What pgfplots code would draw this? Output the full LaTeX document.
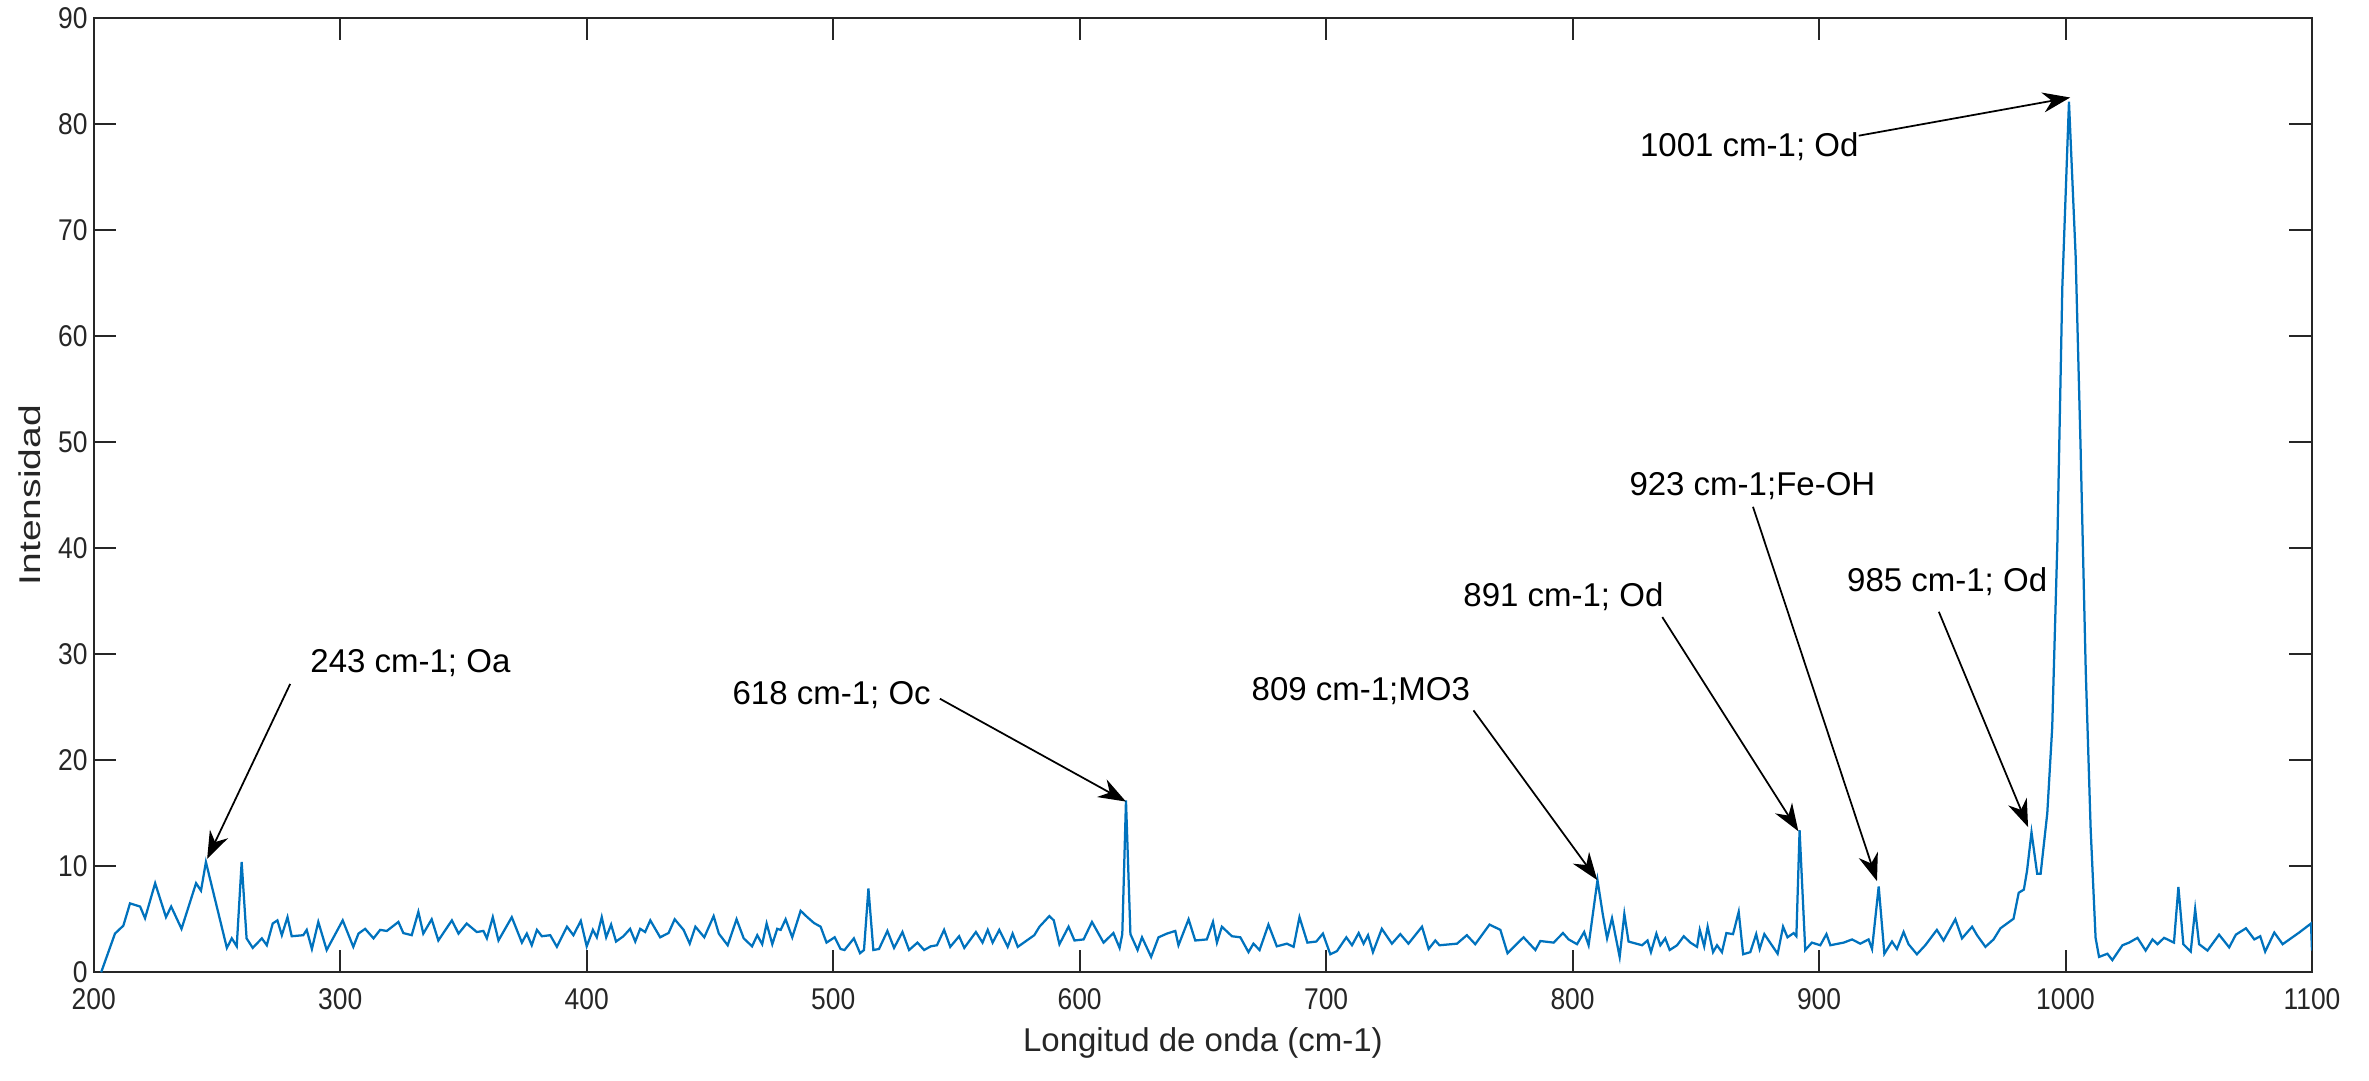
\documentclass[border=0pt]{standalone}
\usepackage{fontspec}
\setmainfont{Liberation Sans}
\newfontfamily\tickfont{Liberation Sans}[FakeStretch=0.88]
\usepackage{pgfplots}
\pgfplotsset{compat=1.18}
\usetikzlibrary{arrows.meta,calc}
\definecolor{mlblue}{HTML}{0072BD}
\definecolor{mlgray}{HTML}{262626}

\pgfplotstableread{
x y
203 0
208.6 3.65
212 4.4
214.7 6.5
218.8 6.2
220.8 5.1
224.9 8.4
229.3 5.2
231.4 6.2
235.6 4.1
241.5 8.4
243.5 7.7
245.5 10.4
254 2.3
256 3.2
258 2.45
260 10.4
262 3.2
264.5 2.3
268.2 3.2
270.2 2.55
272.6 4.6
274.5 4.9
276.3 3.5
278.6 5.2
280.3 3.4
285 3.5
286.4 4.0
288.5 2.2
291.1 4.75
294.5 2.1
301 4.9
305.3 2.4
307.4 3.65
310.1 4.1
313.5 3.2
316.2 4.0
318.9 3.9
323.6 4.75
325.6 3.7
329 3.5
331.7 5.7
333.7 3.65
337.1 5.0
339.8 3.0
345.3 4.9
348 3.65
351.3 4.6
355.4 3.8
358.1 3.9
359.5 3.2
361.9 5.2
364.2 3.0
369.6 5.2
373.7 2.8
375.7 3.65
377.7 2.55
379.8 4.0
381.8 3.4
385.2 3.5
387.9 2.4
392 4.3
394.6 3.5
397.6 4.85
400 2.45
402.5 4.0
404.1 3.3
406.1 5.2
407.9 3.3
409.9 4.5
411.9 2.9
414.9 3.4
417.6 4.1
419.7 2.9
421.7 4.1
423.7 3.8
425.8 4.9
429.8 3.3
433.2 3.7
435.7 5.0
439.3 4.0
441.8 2.7
444.1 4.3
447.7 3.3
451.5 5.3
453.6 3.65
457.2 2.55
460.8 5.0
463.7 3.2
467.1 2.45
469.2 3.5
471.2 2.65
473 4.6
475.3 2.65
477.3 4.1
478.7 4.0
480.7 5.0
483.4 3.3
486.8 5.8
489.5 5.2
492.2 4.65
494.9 4.3
497.3 2.8
500.6 3.3
503 2.2
504.6 2.1
508.4 3.2
510.9 1.8
512.5 2.1
514.3 7.9
516.3 2.1
518.6 2.2
522 3.9
524.7 2.3
528.1 3.8
530.8 2.1
534.2 2.8
536.9 2.1
539.6 2.45
542.1 2.55
545 4.0
547.5 2.4
551.1 3.4
553.2 2.3
557.9 3.8
560.6 2.8
562.7 4.0
564.7 2.8
567.4 4.0
570.8 2.4
572.8 3.65
574.9 2.4
581.6 3.5
583.7 4.3
587.7 5.3
589.5 4.9
591.8 2.65
595.5 4.3
597.9 3.0
601.6 3.1
605 4.75
609.7 2.8
613.7 3.7
616.2 2.3
617.3 3.6
618.8 16.2
620.6 3.6
623.5 2.1
625.3 3.3
629 1.45
632 3.3
635.4 3.65
638.8 3.9
640.1 2.55
644.2 5.0
646.9 3.0
651.6 3.1
654.1 4.75
655.7 2.8
657.7 4.3
661.8 3.4
665.2 3.3
668.5 1.9
670.5 2.7
673 2.1
676.6 4.5
680 2.45
684.1 2.7
686.8 2.4
689.2 5.2
692.4 2.8
696 2.9
698.7 3.65
701.7 1.7
704.4 2.0
708.2 3.3
710.5 2.55
713.2 3.7
715.2 2.7
717 3.5
719 1.9
722.6 4.1
726.7 2.7
730.1 3.6
733.4 2.7
738.9 4.3
741.6 2.2
744.3 3.0
746 2.55
753.1 2.7
757.1 3.5
760.5 2.65
766.3 4.5
770.7 4.0
773.6 1.8
780.1 3.3
784.9 2.1
786.9 2.95
792.3 2.8
796.1 3.7
798.4 3.1
801.8 2.65
804.7 3.8
806.5 2.55
810.1 8.7
812.3 5.4
814 3.2
816 5.1
819.1 1.45
821 5.5
822.7 2.9
828.2 2.55
830.4 3.0
831.8 1.9
834 3.65
835.6 2.55
837.6 3.2
839.4 2.1
842.4 2.55
845.1 3.4
847.8 2.8
850.5 2.4
851.6 4.0
853.4 2.45
854.8 4.3
857 1.9
858.6 2.55
860.6 1.9
862.4 3.7
865.1 3.6
867.4 5.7
869.2 1.7
872.1 1.9
874.5 3.6
875.9 2.2
877.8 3.6
883.2 1.75
885.4 4.3
887.2 3.3
889.7 3.7
890.8 3.4
892.1 13.4
894.4 2.1
897.1 2.8
900.5 2.55
903 3.6
904.6 2.55
910 2.8
913.4 3.1
916.7 2.7
920.1 3.1
921.5 2.2
924.2 8.1
926.5 1.75
929.6 2.9
931.6 2.2
934.3 3.8
936.3 2.65
939.7 1.7
943.1 2.55
947.8 4.0
950.5 3.0
955.3 5.0
958 3.2
962.1 4.3
964.1 3.5
967.5 2.4
970.8 3.1
973.6 4.15
978.9 5.05
981 7.5
983.1 7.8
984.4 9.6
986.2 13.2
988.5 9.3
989.9 9.3
992.6 15.0
994.6 23.1
996.7 40.6
998.7 64.6
1001.4 82.1
1004.1 67.6
1006.1 49.6
1008.2 28.5
1010.2 13.5
1012.2 3.25
1013.6 1.45
1017 1.75
1019 1.15
1023.1 2.55
1025.8 2.8
1029.2 3.25
1032.5 2.05
1035.3 3.1
1037.3 2.65
1040 3.25
1044 2.8
1045.8 8.05
1047.8 2.65
1050.8 1.95
1052.6 5.95
1054.2 2.65
1057.6 2.05
1062.3 3.55
1066.4 2.35
1069.1 3.55
1073.2 4.15
1076.6 3.1
1079 3.4
1081 1.95
1084.7 3.75
1088.1 2.65
1094.8 3.75
1099.6 4.6
1100 2.05
}\spectrum

\begin{document}
\begin{tikzpicture}
\begin{axis}[
  scale only axis,
  width=887pt, height=381.6pt,
  xmin=200, xmax=1100, ymin=0, ymax=90,
  xtick={200,300,...,1100},
  ytick={0,10,...,90},
  tick align=inside,
  major tick length=9pt,
  axis line style={mlgray, line width=0.8pt},
  every tick/.style={mlgray, line width=0.8pt},
  tick label style={font=\tickfont\fontsize{12}{14}\selectfont, text=mlgray},
  /pgf/number format/assume math mode=true,
  /pgf/number format/1000 sep={},
  xticklabel style={yshift=-3pt},
  yticklabel style={xshift=1pt},
  xlabel={Longitud de onda (cm-1)},
  ylabel={\scalebox{1.3}[1]{Intensidad}},
  xlabel style={at={(axis description cs:0.5,-0.074)}, anchor=center, font=\fontsize{13.2}{15}\selectfont, text=mlgray},
  ylabel style={at={(axis description cs:-0.029,0.5)}, anchor=center, font=\fontsize{12}{14}\selectfont, text=mlgray},
]
\addplot[mlblue, line width=0.9pt] table[x=x, y=y] {\spectrum};

\tikzset{ann/.style={font=\fontsize{13.2}{15}\selectfont, anchor=west, inner sep=0pt},
         arr/.style={-{Stealth[length=11pt, width=8pt]}, line width=0.7pt, black}}
\node[ann] at (axis cs:287.7,29.2) {243 cm-1; Oa};
\draw[arr] (axis cs:279.7,27.2) -- (axis cs:246,10.7);
\node[ann] at (axis cs:459,26.1) {618 cm-1; Oc};
\draw[arr] (axis cs:543.3,25.8) -- (axis cs:618.8,16.1);
\node[ann] at (axis cs:669.6,26.5) {809 cm-1;MO3};
\draw[arr] (axis cs:759.8,24.7) -- (axis cs:810,8.7);
\node[ann] at (axis cs:755.5,35.4) {891 cm-1; Od};
\draw[arr] (axis cs:836.4,33.5) -- (axis cs:891.6,13.3);
\node[ann] at (axis cs:822.9,45.9) {923 cm-1;Fe-OH};
\draw[arr] (axis cs:873.2,43.9) -- (axis cs:923.5,8.6);
\node[ann] at (axis cs:911.2,36.8) {985 cm-1; Od};
\draw[arr] (axis cs:948.6,34) -- (axis cs:984.8,13.7);
\node[ann] at (axis cs:827.2,77.9) {1001 cm-1; Od};
\draw[arr] (axis cs:916.1,78.9) -- (axis cs:1001.9,82.5);
\end{axis}
\pgfresetboundingbox
\path[use as bounding box] ($(current axis.south west)+(-37.5pt,-43.2pt)$) rectangle ($(current axis.north east)+(22.8pt,7.2pt)$);
\end{tikzpicture}
\end{document}
